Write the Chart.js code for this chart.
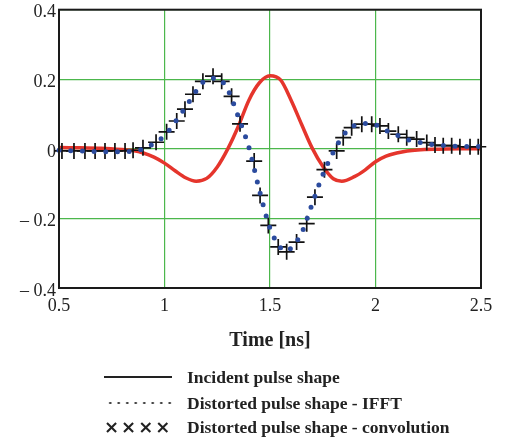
<!DOCTYPE html>
<html>
<head>
<meta charset="utf-8">
<script src="https://cdn.jsdelivr.net/npm/chart.js@4/dist/chart.umd.min.js"></script>
<style>
  html, body { margin: 0; padding: 0; background: #fff; }
  #wrap { position: relative; width: 511px; height: 441px; overflow: hidden; }
  #c { position: absolute; left: 0; top: 0; }
  .leg { position: absolute; left: 0; font-family: "Liberation Serif", "Times New Roman", serif; font-weight: bold; font-size: 17.5px; color: #222; white-space: nowrap; }
  .leg .txt { position: absolute; left: 187px; top: 0; line-height: 20px; }
  .leg .sample { position: absolute; left: 104px; width: 68px; }
</style>
</head>
<body>
<div id="wrap">
  <canvas id="c" width="511" height="441"></canvas>
  <div class="leg" style="top:367px;">
    <div class="sample" style="top:9px;height:2px;background:#222;"></div>
    <div class="txt">Incident pulse shape</div>
  </div>
  <div class="leg" style="top:393px;">
    <div class="sample" style="top:8px;height:4px;background-image:radial-gradient(circle, #333 0.9px, rgba(255,255,255,0) 1.4px);background-size:8.5px 4px;background-position:2px 0;"></div>
    <div class="txt">Distorted pulse shape - IFFT</div>
  </div>
  <div class="leg" style="top:417px;">
    <div class="sample" style="top:-1px;font-family:'DejaVu Sans',sans-serif;font-size:18px;letter-spacing:2px;line-height:22px;">××××</div>
    <div class="txt">Distorted pulse shape - convolution</div>
  </div>
</div>
<script>
// ---- data ----
const xTickValues = [0.5, 1, 1.5, 2, 2.5];
const yTickValues = [-0.4, -0.2, 0, 0.2, 0.4];

const incidentT = [0.5, 0.6, 0.7, 0.8, 0.85, 0.9, 0.95, 1.0, 1.05, 1.1, 1.15, 1.2, 1.25, 1.3, 1.35, 1.4, 1.45, 1.5, 1.55, 1.6, 1.65, 1.7, 1.75, 1.8, 1.84, 1.9, 1.95, 2.0, 2.05, 2.1, 2.15, 2.2, 2.3, 2.4, 2.5];
const incidentV = [0.004, 0.003, 0.002, -0.002, -0.005, -0.012, -0.024, -0.041, -0.063, -0.083, -0.093, -0.085, -0.052, 0.0, 0.065, 0.14, 0.19, 0.21, 0.198, 0.14, 0.07, 0.002, -0.05, -0.086, -0.093, -0.08, -0.061, -0.037, -0.021, -0.012, -0.006, -0.003, -0.001, 0.0, 0.0];

const ifftT = [0.5, 0.6, 0.7, 0.8, 0.85, 0.9, 0.95, 1.0, 1.05, 1.1, 1.15, 1.2, 1.25, 1.3, 1.35, 1.4, 1.45, 1.5, 1.55, 1.58, 1.6, 1.65, 1.7, 1.75, 1.8, 1.85, 1.9, 1.95, 2.0, 2.05, 2.1, 2.15, 2.2, 2.25, 2.3, 2.4, 2.5];
const ifftV = [-0.004, -0.006, -0.008, -0.008, -0.007, 0.0, 0.016, 0.038, 0.077, 0.12, 0.166, 0.2, 0.203, 0.17, 0.092, 0.004, -0.12, -0.228, -0.284, -0.294, -0.285, -0.242, -0.158, -0.075, -0.01, 0.041, 0.067, 0.073, 0.069, 0.053, 0.04, 0.027, 0.02, 0.014, 0.011, 0.007, 0.007];

const convT = [0.514, 0.571, 0.623, 0.671, 0.718, 0.765, 0.813, 0.851, 0.898, 0.960, 1.010, 1.058, 1.097, 1.135, 1.182, 1.230, 1.271, 1.318, 1.358, 1.425, 1.453, 1.492, 1.539, 1.579, 1.626, 1.674, 1.713, 1.758, 1.816, 1.847, 1.887, 1.935, 1.982, 2.021, 2.061, 2.108, 2.148, 2.195, 2.243, 2.282, 2.321, 2.361, 2.400, 2.448, 2.487];
const convV = [-0.006, -0.006, -0.006, -0.006, -0.006, -0.006, -0.006, -0.004, 0.003, 0.019, 0.049, 0.080, 0.114, 0.157, 0.194, 0.209, 0.194, 0.151, 0.072, -0.035, -0.134, -0.220, -0.282, -0.296, -0.268, -0.215, -0.139, -0.060, -0.006, 0.032, 0.061, 0.071, 0.071, 0.066, 0.051, 0.042, 0.032, 0.028, 0.018, 0.011, 0.009, 0.009, 0.006, 0.006, 0.006];

const zip = (xs, ys) => xs.map((x, i) => ({ x: x, y: ys[i] }));

const GRID = '#4cb74c';
const SERIF = '"Liberation Serif", "Times New Roman", serif';

const framePlugin = {
  id: 'frame',
  afterDatasetsDraw(chart) {
    const a = chart.chartArea, ctx = chart.ctx;
    ctx.save();
    ctx.strokeStyle = '#1a1a1a';
    ctx.lineWidth = 2;
    ctx.strokeRect(a.left, a.top, a.right - a.left, a.bottom - a.top);
    ctx.restore();
  }
};

new Chart(document.getElementById('c'), {
  type: 'line',
  data: {
    datasets: [
      {
        label: 'Incident pulse shape',
        data: zip(incidentT, incidentV),
        borderColor: '#e5352c',
        borderWidth: 3.5,
        pointRadius: 0,
        cubicInterpolationMode: 'monotone',
        fill: false,
        order: 3
      },
      {
        label: 'Distorted pulse shape - convolution',
        data: zip(convT, convV),
        showLine: false,
        pointStyle: 'cross',
        pointRadius: 8,
        pointBorderWidth: 1.7,
        pointBorderColor: '#111',
        borderColor: '#111',
        order: 2
      },
      {
        label: 'Distorted pulse shape - IFFT',
        data: zip(ifftT, ifftV),
        borderColor: '#2b4b9e',
        borderWidth: 5,
        borderCapStyle: 'round',
        borderDash: [0, 11.7],
        pointRadius: 0,
        cubicInterpolationMode: 'monotone',
        fill: false,
        order: 1
      }
    ]
  },
  options: {
    responsive: false,
    animation: false,
    clip: false,
    layout: { padding: { top: 8, right: 30, left: 0, bottom: 87 } },
    plugins: { legend: { display: false }, tooltip: { enabled: false } },
    scales: {
      x: {
        type: 'linear',
        min: 0.5, max: 2.5,
        afterBuildTicks: s => { s.ticks = xTickValues.map(v => ({ value: v })); },
        afterFit: s => { s.height = 66; s.paddingLeft = 0; s.paddingRight = 0; },
        grid: { color: GRID, lineWidth: 1.2, drawTicks: false },
        border: { display: false },
        ticks: {
          color: '#222', padding: 7,
          font: { family: SERIF, size: 18 },
          maxRotation: 0,
          callback: v => String(v)
        },
        title: {
          display: true, text: 'Time [ns]', color: '#222',
          font: { family: SERIF, size: 20, weight: 'bold' },
          padding: { top: 0, bottom: 1 }
        }
      },
      y: {
        type: 'linear',
        min: -0.4, max: 0.4,
        afterBuildTicks: s => { s.ticks = yTickValues.map(v => ({ value: v })); },
        afterFit: s => { s.width = 59; s.paddingTop = 0; s.paddingBottom = 0; },
        grid: { color: GRID, lineWidth: 1.2, drawTicks: false },
        border: { display: false },
        ticks: {
          color: '#222', padding: 3, labelOffset: 3,
          font: { family: SERIF, size: 18 },
          callback: v => {
            const r = Math.round(v * 10) / 10;
            if (r === 0) return '0';
            return r < 0 ? '\u2013 ' + Math.abs(r).toFixed(1) : r.toFixed(1);
          }
        }
      }
    }
  },
  plugins: [framePlugin]
});
</script>
</body>
</html>
